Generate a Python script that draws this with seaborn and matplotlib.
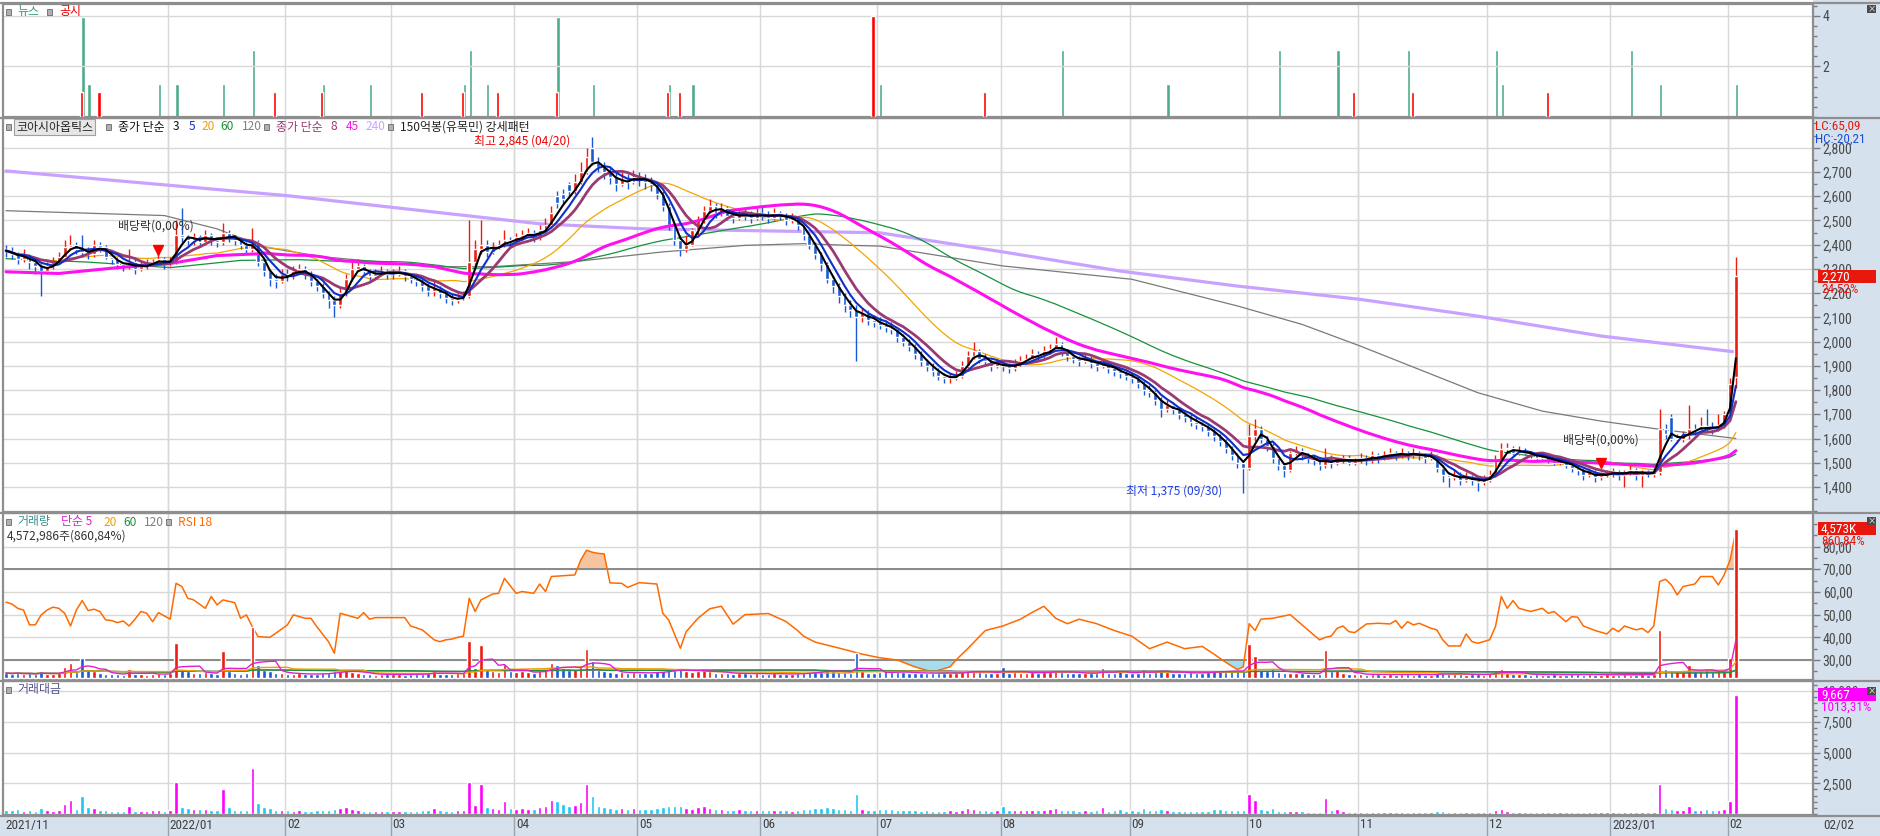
import matplotlib
matplotlib.use("Agg")
import matplotlib.pyplot as plt
from matplotlib import font_manager
from matplotlib.patches import Rectangle
from matplotlib.ticker import MultipleLocator, FuncFormatter
import numpy as np
import pandas as pd
import seaborn as sns

# ---- data (daily bars, 2021/11/24 .. 2023/02/02) ----
close = [
    2375, 2360, 2340, 2355, 2330, 2310,
    2290, 2310, 2330, 2350, 2390, 2400, 2380, 2370, 2360, 2400, 2390, 2350, 2340, 2320, 2310, 2330, 2300, 2310, 2320, 2330, 2340, 2320,
    2330, 2440, 2430, 2420, 2430, 2410, 2440, 2420, 2410, 2450, 2430, 2420, 2400, 2380, 2410, 2330, 2290, 2260, 2250, 2280,
    2270, 2290, 2300, 2280, 2250, 2230, 2200, 2170, 2150, 2200, 2260, 2300, 2310, 2290, 2270, 2280, 2290, 2280,
    2280, 2290, 2270, 2260, 2250, 2230, 2210, 2220, 2200, 2180, 2170, 2180, 2190, 2330, 2380, 2400, 2370, 2390, 2400, 2420, 2410,
    2430, 2440, 2450, 2430, 2460, 2480, 2530, 2570, 2590, 2620, 2660, 2700, 2760, 2740, 2720, 2700, 2680, 2650, 2670, 2660, 2680,
    2670, 2660, 2650, 2610, 2560, 2480, 2420, 2380, 2400, 2460, 2500, 2540, 2560, 2530, 2550, 2520, 2510, 2530, 2520, 2510, 2530,
    2520, 2510, 2530, 2520, 2500, 2510, 2480, 2440, 2400, 2360, 2320, 2260, 2230, 2190, 2150, 2130, 2100, 2120, 2090, 2080,
    2070, 2060, 2050, 2020, 2000, 1980, 1950, 1920, 1900, 1880, 1860, 1850, 1850, 1860, 1900, 1940, 1960, 1930, 1920, 1900, 1910,
    1900, 1890, 1910, 1920, 1930, 1950, 1940, 1960, 1970, 1990, 1960, 1940, 1930, 1920, 1930, 1910, 1900, 1910, 1890, 1880, 1870, 1860,
    1850, 1830, 1800, 1790, 1760, 1720, 1740, 1720, 1700, 1690, 1670, 1660, 1650, 1630, 1610, 1590, 1560, 1530, 1500, 1480,
    1610, 1640, 1600, 1570, 1520, 1490, 1470, 1540, 1550, 1530, 1520, 1510, 1490, 1520, 1500, 1510, 1520, 1500, 1510,
    1520, 1510, 1530, 1520, 1530, 1540, 1530, 1540, 1530, 1540, 1530, 1520, 1530, 1480, 1450, 1440, 1450, 1430, 1440, 1430, 1420, 1430,
    1450, 1510, 1555, 1560, 1540, 1550, 1540, 1530, 1520, 1530, 1510, 1500, 1510, 1490, 1480, 1470, 1450, 1460, 1440, 1450, 1460,
    1460, 1450, 1460, 1470, 1450, 1460, 1455, 1460, 1640, 1620, 1600, 1600, 1615, 1640, 1635, 1650, 1645, 1640, 1655, 1700,
    1823, 2270]

high = [
    2400, 2390, 2370, 2380, 2360, 2345,
    2320, 2330, 2350, 2370, 2420, 2440, 2410, 2440, 2390, 2420, 2410, 2400, 2360, 2350, 2330, 2380, 2340, 2330, 2340, 2340, 2360, 2350,
    2350, 2500, 2550, 2440, 2450, 2440, 2460, 2450, 2430, 2490, 2460, 2440, 2430, 2410, 2470, 2420, 2340, 2300, 2280, 2300,
    2300, 2310, 2320, 2310, 2290, 2260, 2240, 2210, 2190, 2220, 2280, 2330, 2340, 2320, 2300, 2300, 2310, 2300,
    2300, 2310, 2300, 2280, 2270, 2260, 2240, 2260, 2230, 2210, 2200, 2200, 2210, 2500, 2420, 2500, 2420, 2410, 2420, 2460, 2430,
    2450, 2460, 2470, 2460, 2480, 2510, 2560, 2620, 2630, 2660, 2690, 2740, 2800, 2845, 2760, 2740, 2720, 2700, 2700, 2690, 2710,
    2700, 2690, 2680, 2660, 2620, 2570, 2490, 2440, 2440, 2470, 2520, 2560, 2590, 2570, 2570, 2560, 2540, 2550, 2550, 2540, 2550,
    2560, 2540, 2550, 2540, 2530, 2530, 2520, 2490, 2450, 2410, 2370, 2330, 2270, 2240, 2200, 2170, 2150, 2140, 2130, 2110,
    2100, 2090, 2080, 2060, 2030, 2010, 1990, 1960, 1930, 1910, 1890, 1870, 1870, 1880, 1920, 1960, 2000, 1970, 1950, 1930, 1930,
    1920, 1910, 1930, 1940, 1950, 1970, 1960, 1980, 1990, 2020, 2000, 1970, 1950, 1940, 1950, 1940, 1920, 1930, 1920, 1900, 1890, 1880,
    1870, 1860, 1840, 1820, 1800, 1770, 1760, 1750, 1730, 1710, 1700, 1690, 1670, 1660, 1640, 1620, 1600, 1570, 1540, 1510,
    1660, 1680, 1650, 1610, 1580, 1530, 1500, 1550, 1570, 1560, 1540, 1530, 1520, 1560, 1530, 1520, 1530, 1530, 1520,
    1540, 1530, 1550, 1540, 1550, 1560, 1550, 1560, 1550, 1560, 1550, 1540, 1550, 1535, 1490, 1460, 1470, 1460, 1460, 1450, 1440, 1450,
    1470, 1530, 1580, 1580, 1570, 1570, 1560, 1550, 1540, 1540, 1540, 1520, 1520, 1520, 1500, 1490, 1480, 1480, 1470, 1460, 1470,
    1480, 1470, 1470, 1490, 1480, 1470, 1470, 1480, 1720, 1660, 1700, 1620, 1630, 1740, 1660, 1690, 1720, 1670, 1700, 1715,
    1850, 2350]

low = [
    2350, 2340, 2320, 2330, 2300, 2280,
    2190, 2280, 2300, 2320, 2340, 2380, 2360, 2350, 2340, 2350, 2370, 2340, 2320, 2300, 2290, 2300, 2280, 2290, 2300, 2310, 2320, 2300,
    2310, 2320, 2410, 2400, 2400, 2390, 2400, 2400, 2390, 2400, 2410, 2400, 2380, 2360, 2370, 2310, 2270, 2230, 2220, 2240,
    2250, 2260, 2280, 2260, 2230, 2210, 2180, 2140, 2100, 2140, 2190, 2250, 2290, 2270, 2250, 2260, 2270, 2260,
    2260, 2270, 2250, 2240, 2230, 2210, 2190, 2190, 2180, 2160, 2150, 2160, 2170, 2180, 2310, 2360, 2350, 2360, 2380, 2390, 2390,
    2400, 2420, 2430, 2410, 2420, 2450, 2470, 2550, 2570, 2600, 2610, 2650, 2690, 2730, 2700, 2670, 2650, 2620, 2640, 2630, 2650,
    2640, 2630, 2620, 2590, 2540, 2460, 2400, 2355, 2370, 2395, 2440, 2490, 2530, 2510, 2520, 2500, 2490, 2500, 2500, 2490, 2500,
    2500, 2490, 2500, 2500, 2480, 2490, 2460, 2420, 2380, 2340, 2290, 2240, 2200, 2160, 2120, 2100, 1920, 2080, 2070, 2060,
    2050, 2040, 2030, 2000, 1980, 1960, 1930, 1900, 1880, 1860, 1840, 1830, 1830, 1840, 1850, 1890, 1930, 1910, 1900, 1880, 1890,
    1880, 1870, 1880, 1900, 1910, 1920, 1920, 1930, 1950, 1960, 1940, 1920, 1910, 1900, 1910, 1890, 1880, 1890, 1870, 1860, 1850, 1840,
    1830, 1810, 1780, 1770, 1740, 1690, 1710, 1700, 1680, 1670, 1650, 1640, 1630, 1610, 1590, 1570, 1540, 1510, 1480, 1375,
    1470, 1590, 1580, 1550, 1500, 1470, 1440, 1460, 1530, 1510, 1500, 1490, 1470, 1480, 1480, 1490, 1500, 1490, 1490,
    1500, 1490, 1500, 1500, 1510, 1520, 1510, 1520, 1510, 1520, 1510, 1500, 1510, 1460, 1420, 1400, 1430, 1410, 1420, 1410, 1385, 1410,
    1420, 1440, 1500, 1540, 1530, 1530, 1530, 1520, 1510, 1510, 1500, 1490, 1490, 1480, 1460, 1450, 1430, 1440, 1420, 1430, 1440,
    1440, 1430, 1400, 1450, 1430, 1400, 1440, 1440, 1450, 1600, 1590, 1580, 1585, 1600, 1615, 1620, 1630, 1620, 1630, 1645,
    1690, 1810]

# opening prices that gap away from the previous close
gap_open = {0: 2380, 94: 2600, 95: 2610, 96: 2650, 100: 2800, 284: 1690, 295: 1855}

# volume in thousand shares
volume = [
    150, 130, 160, 120, 140, 110,
    200, 130, 120, 140, 340, 460, 180, 615, 250, 200, 150, 130, 120, 110, 100, 280, 120, 110, 100, 130, 150, 120,
    140, 1075, 240, 200, 150, 160, 170, 140, 130, 830, 220, 150, 130, 140, 1565, 400, 250, 200, 160, 150,
    130, 120, 140, 110, 120, 130, 140, 160, 200, 220, 250, 180, 150, 120, 110, 100, 120, 110,
    110, 120, 100, 110, 120, 130, 150, 215, 130, 120, 130, 140, 150, 1135, 300, 1010, 250, 200, 180, 430, 200,
    180, 200, 170, 160, 220, 250, 460, 400, 300, 250, 280, 350, 890, 520, 250, 200, 180, 150, 170, 160, 180,
    150, 140, 160, 200, 220, 250, 260, 280, 200, 180, 220, 250, 200, 160, 150, 140, 130, 150, 140, 130, 140,
    130, 120, 140, 130, 120, 110, 140, 160, 180, 200, 220, 250, 200, 180, 170, 150, 770, 200, 150, 140,
    180, 200, 190, 180, 170, 160, 150, 140, 160, 150, 140, 150, 160, 140, 170, 250, 220, 170, 160, 150, 160,
    330, 160, 170, 160, 150, 180, 160, 170, 190, 250, 180, 160, 150, 140, 150, 140, 160, 300, 150, 160, 210, 150,
    160, 150, 270, 160, 180, 250, 170, 160, 150, 160, 170, 150, 160, 170, 230, 240, 190, 200, 210, 230,
    1040, 690, 250, 200, 300, 180, 160, 140, 150, 140, 130, 120, 130, 850, 200, 260, 140, 130, 120,
    110, 100, 110, 120, 100, 110, 100, 110, 120, 100, 110, 100, 90, 150, 160, 130, 120, 110, 100, 120, 110, 100,
    140, 200, 280, 160, 130, 110, 120, 100, 110, 100, 100, 110, 100, 100, 110, 120, 100, 110, 90, 100, 110,
    100, 90, 110, 100, 90, 120, 100, 110, 1470, 290, 250, 200, 180, 400, 220, 200, 250, 180, 200, 220,
    600, 4573]

# trading value in million won
amount = [
    350, 310, 380, 280, 330, 250,
    460, 300, 280, 330, 810, 1100, 430, 1460, 590, 480, 360, 300, 280, 260, 230, 650, 280, 250, 230, 300, 350, 280,
    340, 2620, 580, 480, 370, 390, 410, 340, 310, 2030, 530, 360, 310, 330, 3770, 930, 570, 450, 360, 340,
    300, 270, 320, 250, 270, 290, 310, 350, 430, 480, 570, 410, 350, 270, 250, 230, 280, 250,
    250, 270, 230, 250, 270, 290, 330, 480, 290, 260, 280, 300, 330, 2640, 710, 2420, 590, 480, 430, 1040, 480,
    440, 490, 420, 390, 540, 620, 1160, 1030, 780, 650, 750, 950, 2460, 1450, 680, 540, 480, 400, 450, 430, 480,
    400, 370, 420, 520, 560, 620, 630, 670, 480, 440, 550, 640, 510, 400, 380, 350, 330, 380, 350, 330, 350,
    330, 300, 350, 330, 300, 280, 350, 390, 430, 470, 510, 570, 450, 390, 370, 320, 1620, 420, 310, 290,
    372, 412, 390, 364, 340, 317, 293, 269, 304, 282, 260, 278, 296, 260, 323, 485, 431, 328, 307, 285, 306,
    627, 302, 325, 307, 290, 351, 310, 333, 374, 498, 353, 310, 290, 269, 290, 267, 304, 573, 284, 301, 395, 279,
    296, 275, 486, 286, 317, 430, 289, 272, 255, 270, 284, 249, 264, 277, 370, 382, 293, 300, 309, 334,
    1622, 1104, 388, 306, 468, 270, 237, 211, 230, 213, 195, 179, 196, 1309, 304, 390, 211, 198, 181,
    167, 151, 168, 182, 153, 169, 153, 169, 184, 154, 168, 152, 138, 222, 232, 187, 174, 157, 144, 172, 157, 143,
    203, 302, 434, 250, 200, 171, 185, 153, 167, 153, 151, 165, 151, 149, 163, 176, 145, 161, 130, 145, 161,
    146, 131, 161, 147, 131, 175, 146, 161, 2440, 490, 400, 315, 290, 650, 356, 330, 415, 295, 330, 372,
    1050, 9667]

# long moving averages (their history starts before the first bar)
ma120_x = [0, 27, 36, 44, 54, 63, 73, 83, 97, 112, 126, 136, 144, 149, 170, 192, 210, 221, 231, 241, 251, 262, 272, 282, 295]
ma120_v = [2540, 2520, 2465, 2390, 2350, 2330, 2309, 2309, 2330, 2370, 2397, 2404, 2397, 2394, 2312, 2257, 2147, 2071,
           1981, 1885, 1789, 1713, 1672, 1638, 1600]
ma240_x = [0, 48, 91, 109, 149, 170, 190, 210, 231, 251, 272, 295]
ma240_v = [2704, 2602, 2486, 2465, 2449, 2370, 2291, 2229, 2174, 2105, 2023, 1957]
# first weeks of the 45- and 60-day lines
ma45_head_x = [0, 9, 19, 28, 36, 43]
ma45_head_v = [2288, 2281, 2305, 2322, 2355, 2362]
ma60_head_x = [0, 14, 28, 40, 50, 58]
ma60_head_v = [2342, 2328, 2305, 2335, 2338, 2330]

# RSI 18
rsi_x = [0, 1, 2, 3, 4, 5, 6, 7, 8, 9, 10, 11, 12, 13, 14, 15, 16, 17, 18, 19,
         20, 21, 22, 23, 24, 25, 26, 28, 29, 30, 31, 32, 34, 35, 36, 37, 39, 40, 41, 42,
         43, 45, 46, 48, 49, 51, 52, 53, 55, 56, 57, 59, 60, 61, 62, 63, 65, 68, 69, 71,
         73, 74, 75, 76, 77, 78, 79, 80, 81, 83, 84, 85, 87, 88, 90, 91, 92, 93, 97, 98,
         99, 100, 101, 102, 103, 105, 106, 108, 111, 112, 113, 115, 116, 118, 120, 122, 124, 126, 130, 133,
         135, 136, 138, 142, 146, 149, 152, 155, 158, 161, 162, 164, 167, 170, 173, 175, 177, 179, 181, 183,
         186, 189, 192, 195, 198, 201, 204, 206, 208, 210, 211, 212, 213, 214, 216, 219, 221, 222, 224, 225,
         226, 227, 228, 229, 230, 232, 234, 236, 237, 238, 239, 240, 241, 243, 244, 245, 246, 248, 249, 250,
         251, 253, 254, 255, 256, 257, 258, 260, 262, 263, 264, 266, 267, 268, 269, 271, 273, 274, 275, 276,
         278, 279, 280, 281, 282, 283, 284, 285, 286, 288, 289, 291, 292, 293, 294, 295]
rsi_v = [55.5, 54.7, 52.8, 52.0, 45.5, 45.5, 49.9, 52.0, 53.3, 52.8, 50.6, 45.0, 52.0, 56.2, 51.8, 52.4, 51.4, 47.7, 47.4, 46.5,
         47.2, 45.0, 48.0, 51.4, 50.6, 46.9, 50.9, 48.0, 63.8, 62.4, 57.2, 56.5, 52.8, 58.0, 54.3, 56.5, 55.3, 48.4, 49.9, 44.7,
         40.3, 40.0, 41.8, 45.5, 49.9, 48.4, 48.4, 44.7, 38.1, 33.0, 50.6, 49.1, 48.4, 50.9, 48.0, 48.7, 48.7, 48.7, 45.0, 43.3,
         38.9, 38.1, 38.9, 39.2, 40.0, 40.5, 57.2, 51.4, 56.5, 59.1, 59.4, 66.0, 59.4, 60.2, 59.4, 63.5, 60.2, 66.8, 67.5, 74.0,
         78.4, 77.5, 77.0, 76.8, 64.0, 63.8, 62.0, 64.1, 63.5, 50.6, 47.7, 35.2, 42.5, 48.4, 52.6, 53.7, 45.8, 50.0, 50.5, 47.0,
         43.0, 40.5, 37.9, 35.3, 32.6, 31.0, 30.0, 27.0, 24.7, 27.0, 30.0, 35.0, 43.0, 45.0, 48.0, 51.0, 53.7, 48.4, 46.0, 48.0,
         46.0, 43.0, 40.5, 35.0, 37.9, 35.0, 36.0, 32.6, 29.0, 25.8, 27.0, 46.0, 43.0, 48.0, 48.4, 50.0, 45.5, 43.3, 38.9, 40.0,
         40.6, 44.0, 45.0, 42.5, 42.1, 45.9, 46.2, 45.9, 47.4, 44.0, 46.9, 45.5, 46.2, 44.0, 43.3, 38.9, 36.2, 36.2, 41.5, 38.1,
         37.4, 38.9, 44.7, 58.0, 52.8, 56.2, 52.8, 51.4, 52.8, 50.6, 51.4, 46.9, 49.1, 48.9, 45.0, 43.0, 41.5, 44.0, 42.5, 45.0,
         43.3, 44.0, 42.1, 45.0, 64.6, 65.6, 63.1, 58.7, 62.4, 63.5, 66.8, 66.8, 63.1, 67.5, 74.0, 87.0]

# news / disclosure counts per bar
news_idx = [13, 14, 26, 29, 37, 42, 54, 62, 78, 79, 82, 94, 100, 113, 117, 149, 180, 198, 217, 227, 239, 254, 255, 277, 282, 295]
news_cnt = [3, 1, 1, 1, 1, 2, 1, 1, 1, 2, 1, 3, 1, 1, 1, 1, 2, 1, 2, 2, 2, 2, 1, 2, 1, 1]
disc_idx = [13, 16, 46, 54, 71, 78, 84, 94, 113, 115, 148, 167, 230, 240, 263]
disc_cnt = [1, 1, 1, 1, 1, 1, 1, 1, 1, 1, 4, 1, 1, 1, 1]

month_idx = [0, 28, 48, 66, 87, 108, 129, 149, 170, 192, 212, 231, 253, 274, 294]
month_lab = ["2021/11", "2022/01", "02", "03", "04", "05", "06", "07", "08", "09", "10", "11", "12", "2023/01", "02"]

# ---- derived series ----
df = pd.DataFrame({"close": close, "high": high, "low": low, "vol": volume, "amt": amount})
df["open"] = df["close"].shift(1)
for k, v in gap_open.items():
    df.loc[k, "open"] = v
df["up"] = df["close"] >= df["open"]
for n in (3, 5, 8, 20, 45, 60):
    df[f"ma{n}"] = df["close"].rolling(n, min_periods=1).mean()
for n in (5, 20, 60, 120):
    df[f"vma{n}"] = df["vol"].rolling(n, min_periods=1).mean()
xs = np.arange(len(df))
ma45_x = ma45_head_x + list(range(44, len(df)))
ma45_y = ma45_head_v + list(df["ma45"].iloc[44:])
ma60_x = ma60_head_x + list(range(59, len(df)))
ma60_y = ma60_head_v + list(df["ma60"].iloc[59:])

# ---- style ----
sns.set_theme(style="white")
plt.rcParams["font.family"] = ["Noto Sans CJK KR", "DejaVu Sans"]
names = {f.name for f in font_manager.fontManager.ttflist}
if "Liberation Sans Narrow" in names:
    NARROW, NSIZE, SSIZE = "Liberation Sans Narrow", 10.5, 10
elif "Roboto Condensed" in names:
    NARROW, NSIZE, SSIZE = "Roboto Condensed", 10, 9.5
else:
    NARROW, NSIZE, SSIZE = "Roboto", 9.4, 8.8

RED, BLUE = "#EE1C10", "#1759D6"
GRID = "#d8d8d8"
W, H = 1881, 836
XL = (-0.51, 308.15)

fig = plt.figure(figsize=(W / 100, H / 100), dpi=100)
fig.patch.set_facecolor("white")


def panel(top, bottom):
    return fig.add_axes([3 / W, 1 - bottom / H, (1813 - 3) / W, (bottom - top) / H])


def right_ticks(ax):
    ax.yaxis.tick_right()
    ax.tick_params(axis="y", which="both", left=False, labelleft=False, right=True, labelright=True)
    ax.tick_params(axis="y", which="major", direction="out", length=5, width=1, colors="#7a7a7a",
                   labelcolor="#4a4a4a", labelsize=NSIZE, pad=2, labelfontfamily=NARROW)
    ax.tick_params(axis="y", which="minor", direction="out", length=3, width=1, colors="#7a7a7a")


def style(ax):
    ax.set_xlim(*XL)
    ax.set_facecolor("white")
    ax.set_xticks([])
    ax.set_xlabel("")
    ax.set_ylabel("")
    for s in ax.spines.values():
        s.set_color("#8e8e8e")
        s.set_linewidth(1.6)
    right_ticks(ax)
    ax.grid(True, axis="y", color=GRID, lw=1)
    ax.set_axisbelow(True)
    for b in month_idx[1:]:
        ax.axvline(b - 0.4, color=GRID, lw=1, zorder=0)


def ftext(x, y, s, color="#333333", size=8.6, **kw):
    opts = dict(color=color, fontsize=size, va="center", ha="left", zorder=6)
    opts.update(kw)
    return fig.text(x / W, 1 - y / H, s, **opts)


def frect(x0, y0, x1, y1, fc, ec="none", lw=0.0, z=5):
    fig.add_artist(Rectangle((x0 / W, 1 - y1 / H), (x1 - x0) / W, (y1 - y0) / H, transform=fig.transFigure,
                             facecolor=fc, edgecolor=ec, linewidth=lw, zorder=z))


def bullet(x, y):
    frect(x, y - 3, x + 5, y + 3, "#b0b0b0", "#6a6a6a", 0.6)


def farrow(x0, x1, y, color):
    fig.axes[0].annotate("", xy=(x1, H - y), xytext=(x0, H - y), xycoords="figure pixels",
                         textcoords="figure pixels",
                         arrowprops=dict(arrowstyle="-|>", color=color, lw=1.2, mutation_scale=9,
                                         shrinkA=0, shrinkB=0))


def hide_twin(ax, ylim):
    ax.set_xlim(*XL)
    ax.set_ylim(*ylim)
    ax.set_yticks([])
    ax.set_ylabel("")
    ax.tick_params(axis="y", which="both", left=False, right=False, labelleft=False, labelright=False)
    for s in ax.spines.values():
        s.set_visible(False)


# backgrounds of the right scale column and the date strip
frect(1813, 0, W, H, "#d6e1ee", z=-1)
frect(0, 816, W, H, "#d6e1ee", z=-1)

ax_news = panel(4, 117)
ax_px = panel(118, 512)
ax_vol = panel(513, 680)
ax_amt = panel(681, 815)

# ---- news / disclosure panel ----
style(ax_news)
ax_n2 = ax_news.twinx()
hide_twin(ax_n2, (0, 3.39))
ax_n2.bar(np.array(news_idx) + 0.15, news_cnt, width=0.55, color="#4cac8a", zorder=2)
ax_n2.set_zorder(ax_news.get_zorder() - 0.5)
ax_n2.patch.set_facecolor("white")
ax_n2.patch.set_visible(True)
ax_news.patch.set_alpha(0)
ax_news.bar(np.array(disc_idx) - 0.15, disc_cnt, width=0.55, color="#ff0000", zorder=3)
right_ticks(ax_news)
ax_news.set_ylim(0, 4.47)
ax_news.set_yticks([2, 4])
ax_news.yaxis.set_major_formatter(FuncFormatter(lambda v, p: f"{int(v)}"))
ax_news.yaxis.set_minor_locator(MultipleLocator(0.4))

# ---- price panel ----
style(ax_px)
sns.lineplot(x=ma240_x, y=ma240_v, ax=ax_px, color="#c9a2ff", lw=2.3, zorder=1.6)
sns.lineplot(x=ma120_x, y=ma120_v, ax=ax_px, color="#7a7a7a", lw=0.9, zorder=1.7)
sns.lineplot(x=ma60_x, y=ma60_y, ax=ax_px, color="#14923c", lw=0.9, zorder=1.7)
sns.lineplot(x=xs, y=df["ma20"], ax=ax_px, color="#f2a600", lw=0.9, zorder=1.7)

ccol = np.where(df["up"], RED, BLUE)
ax_px.vlines(xs, df["low"], df["high"], colors=ccol, lw=1, zorder=2)
body_lo = np.minimum(df["open"], df["close"])
body_h = np.maximum(np.abs(df["close"] - df["open"]), 4)
ax_px.bar(xs, body_h, bottom=body_lo, width=0.66, color=ccol, zorder=2.1)

sns.lineplot(x=ma45_x, y=ma45_y, ax=ax_px, color="#ff10f0", lw=2.2, zorder=2.5)
sns.lineplot(x=xs, y=df["ma8"], ax=ax_px, color="#9b3a72", lw=2.0, zorder=2.6)
sns.lineplot(x=xs, y=df["ma5"], ax=ax_px, color="#1030c8", lw=1.5, zorder=2.7)
sns.lineplot(x=xs, y=df["ma3"], ax=ax_px, color="#000000", lw=1.5, zorder=2.8)
ax_px.plot([26], [2378], marker="v", color="#ff0000", ms=7, zorder=5)
ax_px.plot([272], [1497], marker="v", color="#ff0000", ms=7, zorder=5)
style(ax_px)
ax_px.set_ylim(1296.8, 2922.5)
ax_px.set_yticks(range(1400, 2900, 100))
ax_px.yaxis.set_minor_locator(MultipleLocator(50))
ax_px.yaxis.set_major_formatter(FuncFormatter(lambda v, p: f"{int(round(v)):,}"))

# ---- volume + RSI panel ----
style(ax_vol)
rx, rv = np.array(rsi_x), np.array(rsi_v)
ax_vol.fill_between(rx, rv, 70, where=rv > 70, interpolate=True, color="#f7c4a0", lw=0, zorder=1)
ax_vol.fill_between(rx, rv, 30, where=rv < 30, interpolate=True, color="#a6dcec", lw=0, zorder=1)
sns.lineplot(x=rx, y=rv, ax=ax_vol, color="#ff6a00", lw=1.1, zorder=2)
ax_vol.axhline(70, color="#8a8a8a", lw=1.4, zorder=1.5)
ax_vol.axhline(30, color="#8a8a8a", lw=1.4, zorder=1.5)

ax_v2 = ax_vol.twinx()
ax_v2.bar(xs, df["vol"], width=0.6, color=ccol, zorder=2)
sns.lineplot(x=xs, y=df["vma120"], ax=ax_v2, color="#808080", lw=1.0, zorder=3)
sns.lineplot(x=xs, y=df["vma60"], ax=ax_v2, color="#1e9040", lw=1.0, zorder=3)
sns.lineplot(x=xs, y=df["vma20"], ax=ax_v2, color="#f0a000", lw=1.0, zorder=3)
sns.lineplot(x=xs, y=df["vma5"], ax=ax_v2, color="#e020d0", lw=1.0, zorder=3)
hide_twin(ax_v2, (-61, 5064))

style(ax_vol)
ax_vol.set_ylim(21.2, 94.8)
ax_vol.set_yticks([30, 40, 50, 60, 70, 80])
ax_vol.yaxis.set_minor_locator(MultipleLocator(5))
ax_vol.yaxis.set_major_formatter(FuncFormatter(lambda v, p: f"{v:.2f}".replace(".", ",")))

# ---- trading value panel ----
style(ax_amt)
acol = np.where(df["up"], "#ff00ff", "#19c8f5")
ax_amt.bar(xs, df["amt"], width=0.6, color=acol, zorder=2)
ax_amt.set_ylim(-81, 10830)
ax_amt.set_yticks([2500, 5000, 7500, 10000])
ax_amt.yaxis.set_minor_locator(MultipleLocator(500))
ax_amt.yaxis.set_major_formatter(FuncFormatter(lambda v, p: f"{int(v):,}"))

for ax in (ax_news, ax_px, ax_vol, ax_amt):
    ax.set_xlim(*XL)
    ax.set_xlabel("")
    ax.set_ylabel("")

# ---- date strip ----
for b, lab in zip(month_idx, month_lab):
    xp = 6 + 5.864 * (b - 0.4)
    if b > 0:
        fig.add_artist(plt.Line2D([xp / W, xp / W], [0, 1 - 816 / H], transform=fig.transFigure,
                                  color="#9aa3ad", lw=1, zorder=1))
    ftext(max(xp, 3) + 2, 825, lab, color="#404040", size=SSIZE, family=NARROW)
ftext(1823, 825, "02/02", color="#404040", size=SSIZE, family=NARROW)
for yy in (117.5, 512.5, 680.5, 815.5):
    fig.add_artist(plt.Line2D([0, 1], [1 - yy / H] * 2, transform=fig.transFigure, color="#8e8e8e",
                              lw=1.6, zorder=1))
fig.add_artist(plt.Line2D([1, 1], [0, 1], transform=fig.transFigure, color="#8e8e8e", lw=2, zorder=1))
fig.add_artist(plt.Line2D([0, 1], [1 - 2.5 / H] * 2, transform=fig.transFigure, color="#8e8e8e", lw=1.6,
                          zorder=1))

# ---- legends / captions ----
bullet(6, 12)
ftext(17, 12, "뉴스", color="#3a9a7a")
bullet(47, 12)
ftext(59, 12, "공시", color="#ee0000")

bullet(6, 127)
ftext(16, 127, "코아시아옵틱스", color="#222222",
      bbox=dict(boxstyle="square,pad=0.15", facecolor="#e6e6e6", edgecolor="#a0a0a0", lw=0.8))
bullet(106, 127)
ftext(118, 127, "종가 단순", color="#111111")
ftext(173, 127, "3", color="#111111")
ftext(189, 127, "5", color="#1030c8")
ftext(202, 127, "20", color="#f0a000")
ftext(220, 127, "60", color="#14923c")
ftext(242, 127, "120", color="#808080")
bullet(264, 127)
ftext(276, 127, "종가 단순", color="#9b3a72")
ftext(331, 127, "8", color="#9b3a72")
ftext(346, 127, "45", color="#ff10f0")
ftext(366, 127, "240", color="#c9a2ff")
bullet(388, 127)
ftext(400, 127, "150억봉(유목민) 강세패턴", color="#222222")

ftext(570, 141, "최고 2,845 (04/20)", color="#ee0000", ha="right")
farrow(573, 590, 141, "#ee0000")
ftext(1222, 491, "최저 1,375 (09/30)", color="#1f3fe0", ha="right")
farrow(1226, 1244, 491, "#1f3fe0")
ftext(118, 226, "배당락(0,00%)", color="#303030")
ftext(1563, 440, "배당락(0,00%)", color="#303030")

bullet(6, 522)
ftext(17, 522, "거래량", color="#3a8f8f")
ftext(61, 522, "단순 5", color="#e020d0")
ftext(104, 522, "20", color="#f0a000")
ftext(123, 522, "60", color="#1e9040")
ftext(144, 522, "120", color="#808080")
bullet(166, 522)
ftext(178, 522, "RSI 18", color="#ff6a00")
ftext(7, 536, "4,572,986주(860,84%)", color="#333333")

bullet(6, 690)
ftext(17, 690, "거래대금", color="#55558a")

# ---- right column current values ----
ftext(1815, 126, "LC:65,09", color="#e8190c", size=SSIZE, family=NARROW)
ftext(1815, 139, "HC:-20,21", color="#1f4fd0", size=SSIZE, family=NARROW)
frect(1818, 270, 1876, 283, "#e8190c")
ftext(1821, 277, "2,270", color="white", size=SSIZE, family=NARROW, zorder=7)
ftext(1821, 289, "24,52%", color="#e8190c", size=SSIZE, family=NARROW)
frect(1818, 522, 1876, 535, "#e8190c")
ftext(1821, 529, "4,573K", color="white", size=SSIZE, family=NARROW, zorder=7)
ftext(1821, 541, "860,84%", color="#e8190c", size=SSIZE, family=NARROW)
frect(1818, 688, 1876, 701, "#ff00ff")
ftext(1821, 695, "9,667", color="white", size=SSIZE, family=NARROW, zorder=7)
ftext(1821, 707, "1013,31%", color="#ff00ff", size=SSIZE, family=NARROW)
for yy in (9, 521, 691):
    frect(1867, yy - 4, 1876, yy + 4, "#4a4a4a", z=8)
    ftext(1871.5, yy, "×", color="white", size=6, ha="center", zorder=9)

fig.savefig("out.png", dpi=100)
